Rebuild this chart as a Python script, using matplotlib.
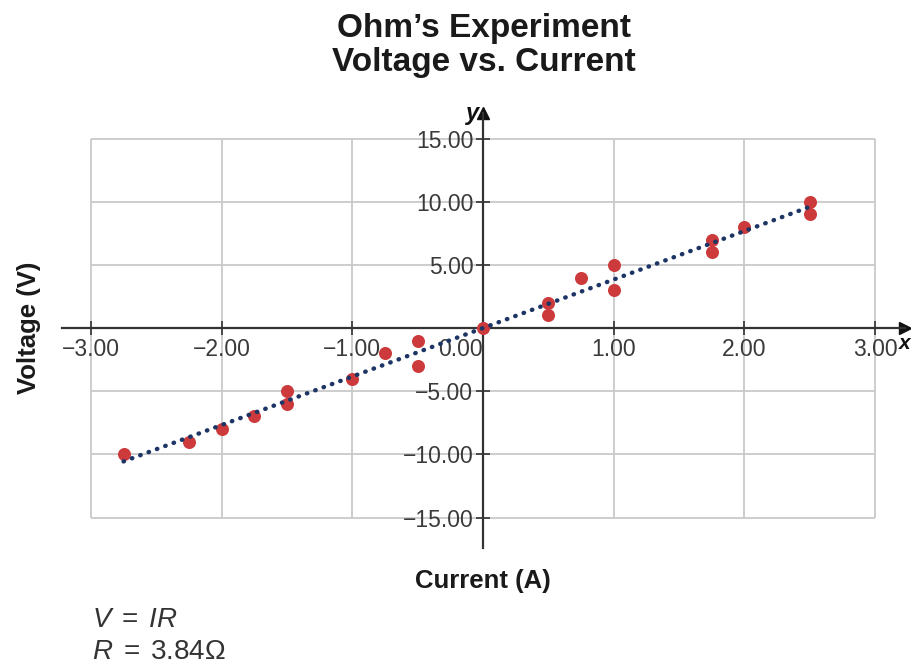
import numpy as np
import matplotlib
matplotlib.use("Agg")
import matplotlib.pyplot as plt

plt.rcParams['font.family'] = ['Liberation Sans', 'DejaVu Sans']
plt.rcParams['mathtext.fontset'] = 'custom'
plt.rcParams['mathtext.rm'] = 'Liberation Sans'
plt.rcParams['mathtext.it'] = 'Liberation Sans:italic'

# measured current (A) and voltage (V)
current = [-2.75, -2.25, -2.0, -1.75, -1.5, -1.5, -1.0, -0.75, -0.5, -0.5,
           0.0, 0.5, 0.5, 0.75, 1.0, 1.0, 1.75, 1.75, 2.0, 2.5, 2.5]
voltage = [-10, -9, -8, -7, -5, -6, -4, -2, -1, -3,
           0, 2, 1, 4, 5, 3, 7, 6, 8, 10, 9]
R = 3.84

xticks = [-3, -2, -1, 0, 1, 2, 3]
yticks = [-15, -10, -5, 0, 5, 10, 15]

fig = plt.figure(figsize=(9.11, 6.65), dpi=100)
ax = fig.add_axes([0.0682, 0.1762, 0.9254, 0.6534])
ax.set_xlim(-3.22, 3.23)
ax.set_ylim(-17.4, 17.0)

grid_col = '#c9c9c9'
ax.vlines(xticks, min(yticks), max(yticks), color=grid_col, lw=1.3, zorder=0)
ax.hlines(yticks, min(xticks), max(xticks), color=grid_col, lw=1.3, zorder=0)

ax.scatter(current, voltage, s=88, color='#cc3a3c', zorder=3, linewidths=0)
xfit = np.array([min(current), max(current)])
ax.plot(xfit, R * xfit, color='#1d3565', lw=3.2, dashes=(0.1, 1.9),
        dash_capstyle='round', zorder=4)

axis_col = '#333333'
for s in ['top', 'right']:
    ax.spines[s].set_visible(False)
for s in ['left', 'bottom']:
    ax.spines[s].set_position('zero')
    ax.spines[s].set_color(axis_col)
    ax.spines[s].set_linewidth(1.6)

ax.plot(1, 0, '>', color='#111111', ms=9, transform=ax.get_yaxis_transform(), clip_on=False)
ax.plot(0, 1, '^', color='#111111', ms=9, transform=ax.get_xaxis_transform(), clip_on=False)

def fmt(v):
    return f"{v:.2f}".replace('-', '\u2212')

ax.set_xticks(xticks)
ax.set_xticklabels([fmt(v) for v in xticks])
yt = [v for v in yticks if v != 0]
ax.set_yticks(yt)
ax.set_yticklabels([fmt(v) for v in yt])
ax.tick_params(direction='inout', length=10, width=1.2, colors=axis_col,
               labelsize=16.5, labelcolor='#3a3a3a', pad=2)
for lab in ax.get_xticklabels():
    if lab.get_text() == '0.00':
        lab.set_horizontalalignment('right')

ax.text(-0.03, 1.0, 'y', transform=ax.get_xaxis_transform(), ha='right', va='center',
        fontsize=17, fontweight='bold', fontstyle='italic', color='#111111')
fig.text(899 / 911, 1 - 343 / 665, 'x', ha='left', va='center',
         fontsize=15, fontweight='bold', fontstyle='italic', color='#111111')

fig.text(484 / 911, 1 - 13 / 665, "Ohm\u2019s Experiment\nVoltage vs. Current",
         ha='center', va='top', fontsize=24, fontweight='bold', color='#1a1a1a',
         linespacing=1.13)
fig.text(483 / 911, 1 - 581 / 665, "Current (A)", ha='center', va='center',
         fontsize=18.5, fontweight='bold', color='#1a1a1a')
fig.text(29 / 911, 1 - 328 / 665, "Voltage (V)", ha='center', va='center',
         rotation=90, fontsize=18.5, fontweight='bold', color='#1a1a1a')

fig.text(92 / 911, 1 - 620 / 665, r"$V\;=\;IR$", ha='left', va='center',
         fontsize=20, color='#333333')
fig.text(92 / 911, 1 - 652 / 665, r"$R\;=\;3.84\mathrm{\Omega}$", ha='left', va='center',
         fontsize=20, color='#333333')

fig.savefig("out.png", dpi=100)
